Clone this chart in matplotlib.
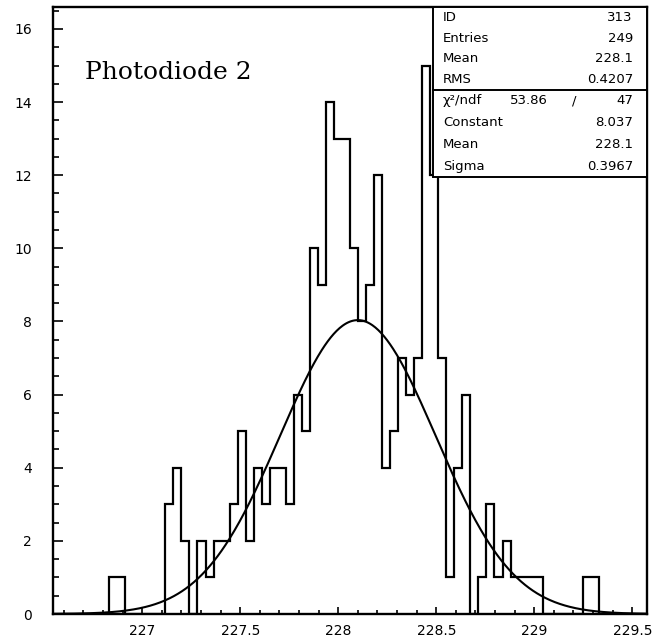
import numpy as np
import matplotlib
matplotlib.use("Agg")
import matplotlib.pyplot as plt
from matplotlib.patches import Rectangle
from matplotlib.ticker import MultipleLocator

# Histogram booking: 74 equal bins over the plotted range
x_lo, x_hi = 226.545, 229.575
n_bins = 74
counts = [
    0, 0, 0, 0, 0, 0, 0, 1, 1, 0,
    0, 0, 0, 0, 3, 4, 2, 0, 2, 1,
    2, 2, 3, 5, 2, 4, 3, 4, 4, 3,
    6, 5, 10, 9, 14, 13, 13, 10, 8, 9,
    12, 4, 5, 7, 6, 7, 15, 12, 7, 1,
    4, 6, 0, 1, 3, 1, 2, 1, 1, 1,
    1, 0, 0, 0, 0, 0, 1, 1, 0, 0,
    0, 0, 0, 0,
]
y_max = 16.6

# Gaussian fit results
fit_const = 8.037
fit_mean = 228.1
fit_sigma = 0.3967

# Statistics box contents
stats_top = [("ID", "313"), ("Entries", "249"), ("Mean", "228.1"), ("RMS", "0.4207")]
chi2_row = ("\u03c7\u00b2/ndf", "53.86", "/", "47")
stats_fit = [("Constant", "8.037"), ("Mean", "228.1"), ("Sigma", "0.3967")]

title = "Photodiode 2"
x_major = [227, 227.5, 228, 228.5, 229, 229.5]
x_labels = ["227", "227.5", "228", "228.5", "229", "229.5"]
y_major = [0, 2, 4, 6, 8, 10, 12, 14, 16]

fig = plt.figure(figsize=(6.58, 6.40), dpi=100)
ax = fig.add_axes([53 / 658, 1 - 614 / 640, 594 / 658, 607 / 640])

edges = np.linspace(x_lo, x_hi, n_bins + 1)
ax.stairs(counts, edges, baseline=0, color="black", lw=1.6)

xs = np.linspace(x_lo, x_hi, 600)
ax.plot(xs, fit_const * np.exp(-0.5 * ((xs - fit_mean) / fit_sigma) ** 2),
        color="black", lw=1.5)

ax.set_xlim(x_lo, x_hi)
ax.set_ylim(0, y_max)

for s in ax.spines.values():
    s.set_linewidth(1.7)
    s.set_zorder(5)

ax.set_xticks(x_major)
ax.set_xticklabels(x_labels)
ax.set_yticks(y_major)
ax.xaxis.set_minor_locator(MultipleLocator(0.1))
ax.yaxis.set_minor_locator(MultipleLocator(0.5))
ax.tick_params(axis="both", which="both", direction="in", top=False, right=False,
               width=1.2, labelsize=10)
ax.tick_params(axis="x", which="major", length=5, pad=7)
ax.tick_params(axis="x", which="minor", length=3)
ax.tick_params(axis="y", which="major", length=7, pad=15)
ax.tick_params(axis="y", which="minor", length=4)

ax.text(0.054, 0.881, title, transform=ax.transAxes, family="DejaVu Serif",
        fontsize=18, va="baseline", ha="left")

# Statistics box in the upper right corner
bx0, by0, by_div = 0.6397, 0.72, 0.8633
ax.add_patch(Rectangle((bx0, by0), 1 - bx0, 1 - by0, transform=ax.transAxes,
                       facecolor="white", edgecolor="black", lw=1.4, zorder=6))
ax.plot([bx0, 1], [by_div, by_div], transform=ax.transAxes, color="black",
        lw=1.4, zorder=7)

lx, rx = 0.6566, 0.9764
txt = dict(transform=ax.transAxes, fontsize=9.5, family="DejaVu Sans", va="center", zorder=8)
row_h = (1 - by_div) / 4
for i, (lab, val) in enumerate(stats_top):
    yy = 1 - (i + 0.5) * row_h
    ax.text(lx, yy, lab, ha="left", **txt)
    ax.text(rx, yy, val, ha="right", **txt)

row_h2 = (by_div - by0) / 4
yy = by_div - 0.5 * row_h2
ax.text(lx, yy, chi2_row[0], ha="left", **txt)
ax.text(0.8325, yy, chi2_row[1], ha="right", **txt)
ax.text(0.878, yy, chi2_row[2], ha="center", **txt)
ax.text(rx, yy, chi2_row[3], ha="right", **txt)
for i, (lab, val) in enumerate(stats_fit):
    yy = by_div - (i + 1.5) * row_h2
    ax.text(lx, yy, lab, ha="left", **txt)
    ax.text(rx, yy, val, ha="right", **txt)

fig.savefig("out.png", dpi=100)
